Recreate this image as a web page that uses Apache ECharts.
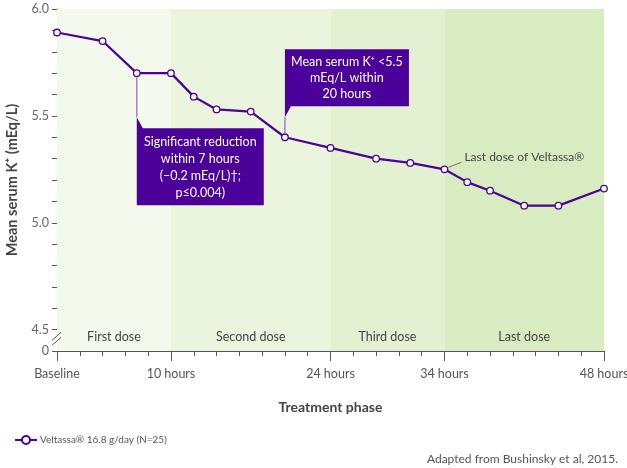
<!DOCTYPE html>
<html>
<head>
<meta charset="utf-8">
<script src="https://cdn.jsdelivr.net/npm/echarts@6/dist/echarts.min.js"></script>
<style>html,body{margin:0;padding:0;background:#fff}#c{width:627px;height:468px}</style>
</head>
<body>
<div id="c"></div>
<script>
// ---- data ----
const hours = [0, 4, 7, 10, 12, 14, 17, 20, 24, 28, 31, 34, 36, 38, 41, 44, 48];
const potassium = [5.89, 5.85, 5.70, 5.70, 5.59, 5.53, 5.52, 5.40, 5.35, 5.30, 5.28, 5.25, 5.19, 5.15, 5.08, 5.08, 5.16];
const phaseNames = ['First dose', 'Second dose', 'Third dose', 'Last dose'];
const phaseBounds = [0, 10, 24, 34, 48];
const xTickValues = [0, 10, 24, 34, 48];
const xTickLabels = ['Baseline', '10 hours', '24 hours', '34 hours', '48 hours'];
const yTickValues = [6.0, 5.5, 5.0, 4.5, 4.4];
const yTickLabels = ['6.0', '5.5', '5.0', '4.5', '0'];
const seriesName = 'Veltassa\u00AE 16.8 g/day (N=25)';

const phaseColors = ['#f4f9ee', '#ebf5de', '#e3f0d1', '#d9ebc0'];
const purple = '#4a0396';
const FONT = 'Lato';

const chart = echarts.init(document.getElementById('c'), null, {renderer: 'canvas'});

function near(a, b) { return Math.abs(a - b) < 1e-6; }

const markAreaData = phaseNames.map((n, i) => [
  {name: n, xAxis: phaseBounds[i], itemStyle: {color: phaseColors[i]}},
  {xAxis: phaseBounds[i + 1]}
]);

const option = {
  animation: false,
  textStyle: {fontFamily: FONT},
  grid: {left: 57, right: 23, top: 9, bottom: 117, containLabel: false, outerBoundsMode: 'none'},
  title: {
    text: 'Adapted from Bushinsky et al, 2015.',
    right: 9, bottom: 3, padding: 0,
    textStyle: {fontSize: 12, fontWeight: 'normal', color: '#555', fontFamily: FONT}
  },
  legend: {
    left: 9, top: 430,
    itemWidth: 22, itemHeight: 10, itemGap: 5,
    textStyle: {fontSize: 10, color: '#555', fontFamily: FONT, padding: [0, 0, 0, -2]},
    data: [seriesName]
  },
  xAxis: [{
    type: 'value', min: 0, max: 48, interval: 2,
    name: 'Treatment phase', nameLocation: 'middle', nameGap: 49,
    nameTextStyle: {fontSize: 14, fontWeight: 'bold', color: '#444', fontFamily: FONT},
    axisLine: {lineStyle: {color: '#555', width: 1}},
    axisTick: {show: true, length: 5, lineStyle: {color: '#555'}},
    splitLine: {show: false},
    axisLabel: {
      margin: 16, fontSize: 12.5, color: '#555', fontFamily: FONT,
      formatter: v => { const i = xTickValues.findIndex(t => near(t, v)); return i >= 0 ? xTickLabels[i] : ''; }
    }
  }, {
    type: 'value', min: 0, max: 48, position: 'bottom',
    axisLine: {show: false},
    axisLabel: {show: false},
    splitLine: {show: false},
    axisTick: {show: true, length: 10, customValues: xTickValues, lineStyle: {color: '#555'}}
  }],
  yAxis: {
    type: 'value', min: 4.4, max: 6.0, interval: 0.1,
    name: 'Mean serum K\u207A (mEq/L)', nameLocation: 'middle', nameGap: 37,
    nameTextStyle: {fontSize: 14.5, fontWeight: 'bold', color: '#444', fontFamily: FONT},
    axisLine: {show: true, lineStyle: {color: '#555', width: 1}},
    axisTick: {show: true, length: 5, lineStyle: {color: '#555'}},
    splitLine: {show: false},
    axisLabel: {
      margin: 8, fontSize: 12.5, color: '#666', fontFamily: FONT,
      formatter: v => { const i = yTickValues.findIndex(t => near(t, v)); return i >= 0 ? yTickLabels[i] : ''; }
    }
  },
  series: [{
    name: seriesName,
    type: 'line',
    data: hours.map((h, i) => [h, potassium[i]]),
    symbol: 'circle', symbolSize: 6.5,
    lineStyle: {color: purple, width: 2.2},
    itemStyle: {color: '#fff', borderColor: purple, borderWidth: 1.3},
    z: 5,
    markArea: {
      silent: true,
      label: {show: true, position: 'insideBottom', distance: 8, fontSize: 12.5, color: '#444', fontFamily: FONT},
      data: markAreaData
    }
  }]
};
chart.setOption(option);

// ---- annotations anchored to data points through the chart's scales ----
function px(i) { return chart.convertToPixel({seriesIndex: 0}, [hours[i], potassium[i]]); }
const a1 = px(2);   // 7 hours
const a2 = px(7);   // 20 hours
const a3 = px(11);  // 34 hours (last dose)
const yBreak = chart.convertToPixel({seriesIndex: 0}, [0, 4.45]);
const box = '#4a0099';
const conn = '#9d83d3';

const g = [];
// callout 1
{
  const L = a1[0], T = a1[1] + 55, W = 127, H = 77;
  g.push({type: 'line', z: 3, shape: {x1: L, y1: a1[1] + 4, x2: L, y2: T - 11}, style: {stroke: conn, lineWidth: 1.5}});
  g.push({type: 'polygon', z: 10, shape: {points: [[L, T - 11], [L + 6, T], [L + W, T], [L + W, T + H], [L, T + H]]}, style: {fill: box}});
  g.push({type: 'text', z: 11, x: L + W / 2, y: T + H / 2 + 1, style: {
    text: 'Significant reduction\nwithin 7 hours\n(\u20130.2 mEq/L)\u2020;\np\u22640.004)',
    fill: '#fff', fontSize: 12.5, lineHeight: 17, fontFamily: FONT, align: 'center', verticalAlign: 'middle'}});
}
// callout 2
{
  const L = a2[0], B = a2[1] - 31, W = 124, H = 57, T = B - H;
  g.push({type: 'line', z: 3, shape: {x1: L, y1: B + 11, x2: L, y2: a2[1] - 4}, style: {stroke: conn, lineWidth: 1.5}});
  g.push({type: 'polygon', z: 10, shape: {points: [[L, T], [L + W, T], [L + W, B], [L + 6, B], [L, B + 11]]}, style: {fill: box}});
  g.push({type: 'text', z: 11, x: L + W / 2, y: T + H / 2, style: {
    text: 'Mean serum K\u207A <5.5\nmEq/L within\n20 hours',
    fill: '#fff', fontSize: 12.5, lineHeight: 16, fontFamily: FONT, align: 'center', verticalAlign: 'middle'}});
}
// last dose label
g.push({type: 'line', z: 3, shape: {x1: a3[0] + 4, y1: a3[1] - 2, x2: a3[0] + 17, y2: a3[1] - 7}, style: {stroke: '#555', lineWidth: 0.8}});
g.push({type: 'text', z: 11, x: a3[0] + 20, y: a3[1] - 12, style: {
  text: 'Last dose of Veltassa\u00AE', fill: '#444', fontSize: 12, fontFamily: FONT, align: 'left', verticalAlign: 'middle'}});
// axis break
{
  const x = yBreak[0], y = yBreak[1] - 1;
  g.push({type: 'rect', z: 20, shape: {x: x - 2, y: y - 3, width: 4, height: 6}, style: {fill: '#fff'}});
  g.push({type: 'line', z: 21, shape: {x1: x - 5, y1: y + 1, x2: x + 4, y2: y - 7}, style: {stroke: '#555', lineWidth: 1}});
  g.push({type: 'line', z: 21, shape: {x1: x - 5, y1: y + 6, x2: x + 4, y2: y - 2}, style: {stroke: '#555', lineWidth: 1}});
}
chart.setOption({graphic: g});
</script>
</body>
</html>
